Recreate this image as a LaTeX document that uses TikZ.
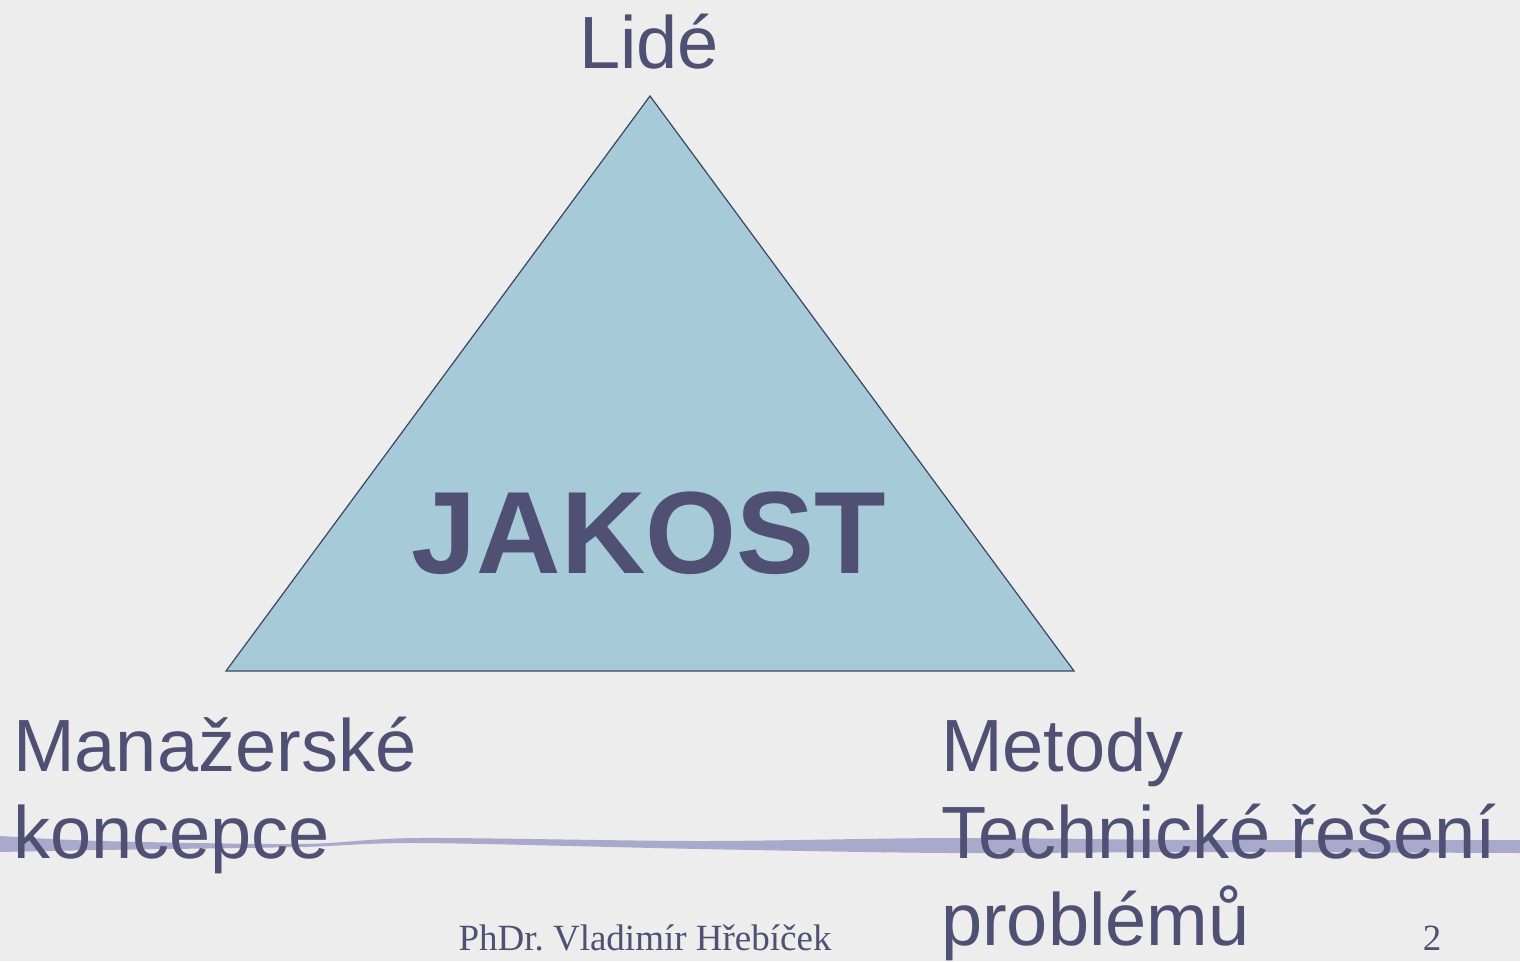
\documentclass[tikz,border=0pt]{standalone}
\usepackage{fontspec}
\setmainfont{Liberation Sans}
\newfontfamily\serifft{Liberation Serif}
\definecolor{bgc}{HTML}{EDEDED}
\definecolor{txt}{HTML}{4F5073}
\definecolor{trif}{HTML}{A6CAD8}
\definecolor{tred}{HTML}{3C4466}
\definecolor{linec}{HTML}{A9A9CB}
\begin{document}
\begin{tikzpicture}[x=1pt,y=-1pt,
  big/.style={text=txt,inner sep=0pt,font=\fontsize{74}{88}\selectfont},
  foot/.style={text=txt,inner sep=0pt,font=\serifft\fontsize{37}{44}\selectfont}]
\fill[bgc] (0,0) rectangle (1520,961);
\useasboundingbox (0,0) rectangle (1520,961);
% decorative line
\fill[linec] plot[smooth,tension=0.5] coordinates {(0,836) (100,841) (300,844) (420,838) (700,841) (950,838) (1200,840) (1520,840)}
  -- plot[smooth,tension=0.5] coordinates {(1520,853) (1200,852) (950,853) (700,849) (420,843) (300,847) (100,850) (0,852)} -- cycle;
% triangle
\coordinate (ta) at (650,96);
\coordinate (tb) at (226,671);
\coordinate (tc) at (1074,671);
\filldraw[fill=trif,draw=tred,line width=1.2pt,line join=miter] (ta) -- (tb) -- (tc) -- cycle;
\node[text=txt,inner sep=0pt,font=\bfseries\fontsize{117}{130}\selectfont,anchor=base] (jak) at (649,573) {JAKOST};
\node[big,anchor=base] (lide) at (649,68) {Lidé};
\node[big,anchor=base west] (man1) at (13,771) {Manažerské};
\node[big,anchor=base west] (man2) at (13,858) {koncepce};
\node[big,anchor=base west] (met1) at (941,771) {Metody};
\node[big,anchor=base west] (met2) at (941,858) {Technické řešení};
\node[big,anchor=base west] (met3) at (941,945) {problémů};
\node[foot,anchor=base] (author) at (645,950) {PhDr.\ Vladimír Hřebíček};
\node[foot,anchor=base] (page) at (1432,950) {2};
\end{tikzpicture}
\end{document}
